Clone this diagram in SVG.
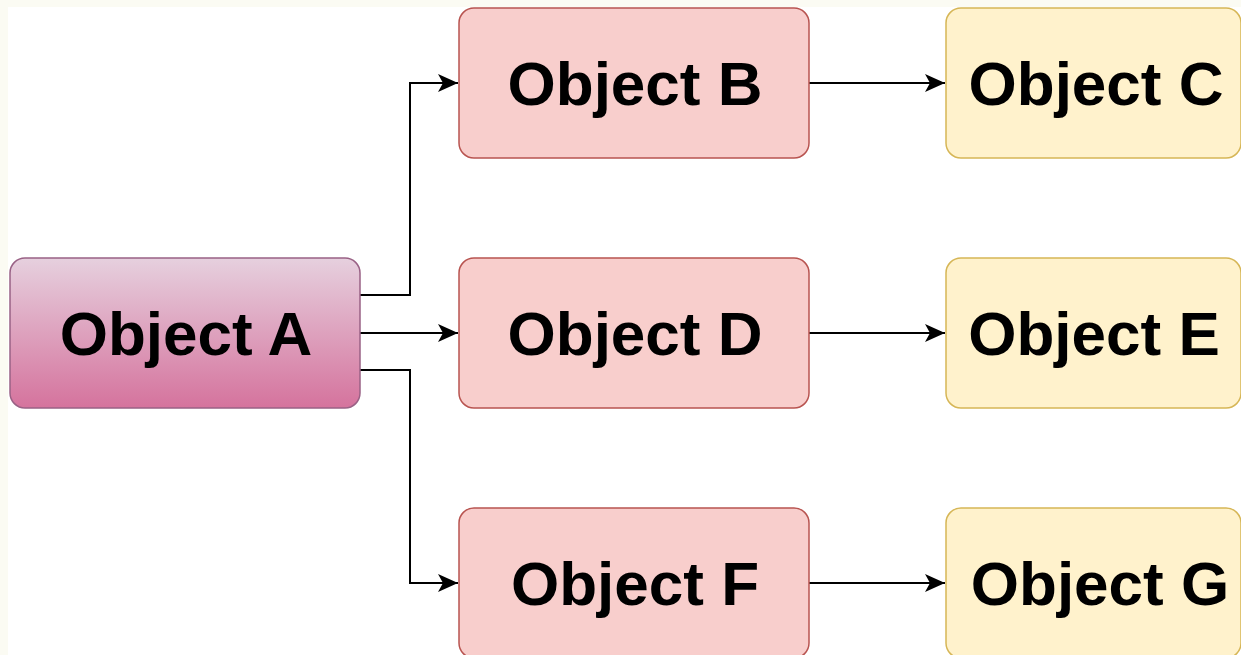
<svg xmlns="http://www.w3.org/2000/svg" width="1241" height="655" viewBox="0 0 1241 655">
<style>
.t{font-family:"Liberation Sans",Arial,sans-serif;font-weight:bold;font-size:62px;fill:#000;text-anchor:middle}
.red{fill:#f8cecc;stroke:#b85450;stroke-width:1.5}
.yel{fill:#fff2cc;stroke:#d6b656;stroke-width:1.5}
.c{fill:none;stroke:#000;stroke-width:2}
</style>
<defs>
<linearGradient id="gA" x1="0" y1="0" x2="0" y2="1">
<stop offset="0" stop-color="#e6d0de"/>
<stop offset="1" stop-color="#d5739d"/>
</linearGradient>
<marker id="ar" viewBox="0 0 20 18" refX="20" refY="9" markerWidth="20" markerHeight="18" markerUnits="userSpaceOnUse" orient="auto">
<path d="M0,0 L20,9 L0,18 L5,9 Z" fill="#000"/>
</marker>
</defs>
<rect width="1241" height="655" fill="#fbfbf3"/>
<rect x="8" y="7" width="1233" height="648" fill="#ffffff"/>
<g id="connectors">
<path class="c" d="M360,295 H410 V83 H458" marker-end="url(#ar)"/>
<path class="c" d="M360,333 H458" marker-end="url(#ar)"/>
<path class="c" d="M360,370 H410 V583 H458" marker-end="url(#ar)"/>
<path class="c" d="M809,83 H945" marker-end="url(#ar)"/>
<path class="c" d="M809,333 H945" marker-end="url(#ar)"/>
<path class="c" d="M809,583 H945" marker-end="url(#ar)"/>
</g>
<g id="nodeA">
<rect x="10" y="258" width="350" height="150" rx="15" fill="url(#gA)" stroke="#996185" stroke-width="1.5"/>
<text class="t" x="186" y="355">Object A</text>
</g>
<g id="nodeB">
<rect class="red" x="459" y="8" width="350" height="150" rx="15"/>
<text class="t" x="635" y="105">Object B</text>
</g>
<g id="nodeD">
<rect class="red" x="459" y="258" width="350" height="150" rx="15"/>
<text class="t" x="635" y="355">Object D</text>
</g>
<g id="nodeF">
<rect class="red" x="459" y="508" width="350" height="150" rx="15"/>
<text class="t" x="635" y="605">Object F</text>
</g>
<g id="nodeC">
<rect class="yel" x="946" y="8" width="295" height="150" rx="15"/>
<text class="t" x="1096" y="105">Object C</text>
</g>
<g id="nodeE">
<rect class="yel" x="946" y="258" width="295" height="150" rx="15"/>
<text class="t" x="1094" y="355">Object E</text>
</g>
<g id="nodeG">
<rect class="yel" x="946" y="508" width="295" height="150" rx="15"/>
<text class="t" x="1100" y="605">Object G</text>
</g>
</svg>
